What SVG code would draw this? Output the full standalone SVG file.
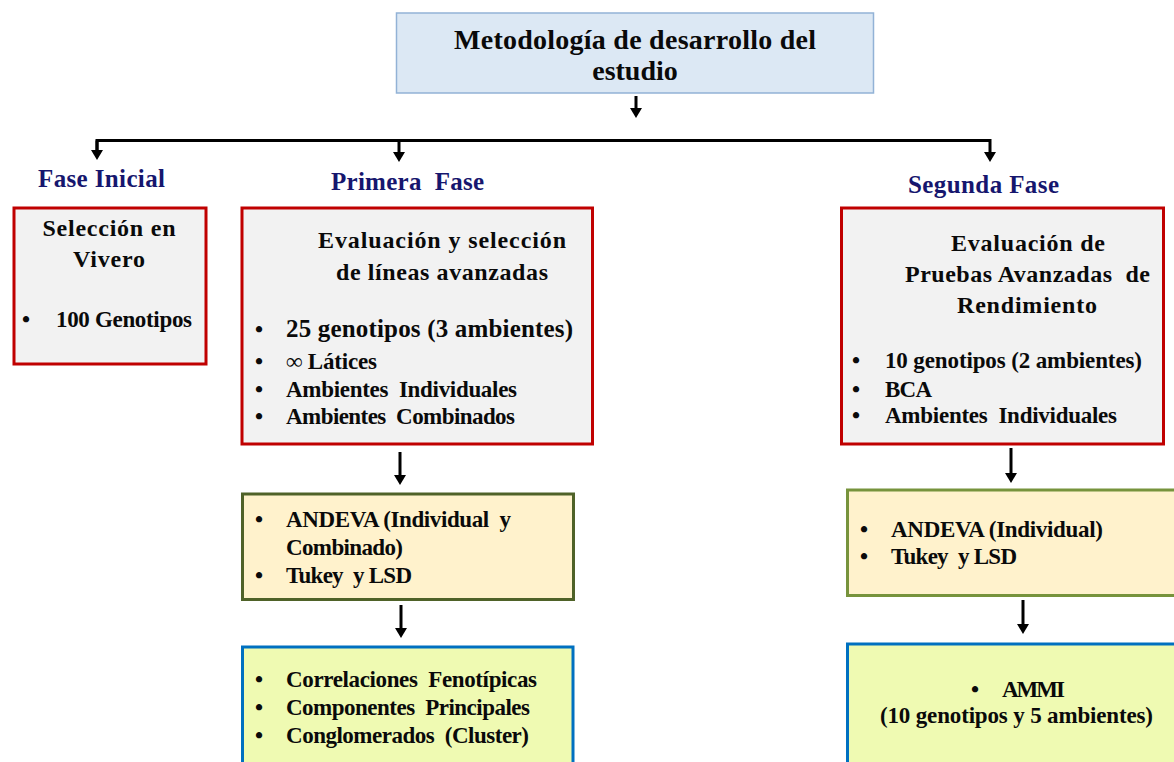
<svg xmlns="http://www.w3.org/2000/svg" width="1174" height="762" viewBox="0 0 1174 762">
<style>
text{font-family:"Liberation Serif","Times New Roman",serif;font-weight:bold;fill:#0a0a0a;white-space:pre}
.t{font-size:28px}
.ph{font-size:25px;fill:#16166e}
.h{font-size:24px}
.b{font-size:23px}
.mid{text-anchor:middle}
.red{fill:#f2f2f2;stroke:#c00000;stroke-width:3}
.grn{fill:#fff2cc;stroke:#4f6228;stroke-width:3}
.grn2{fill:#fff2cc;stroke:#77933c;stroke-width:3}
.blu{fill:#effab2;stroke:#0070c0;stroke-width:3}
.conn{fill:none;stroke:#000;stroke-width:3}
</style>
<defs>
<marker id="ah" markerUnits="userSpaceOnUse" markerWidth="12" markerHeight="12" refX="0" refY="6" orient="auto" viewBox="0 0 10 12">
<path d="M0,0 L10,6 L0,12 z" fill="#000"/>
</marker>
</defs>
<rect width="1174" height="762" fill="#fff"/>

<g id="connectors">
<line class="conn" x1="636" y1="96" x2="636" y2="108" marker-end="url(#ah)"/>
<polyline class="conn" points="97,150 97,140.5 990,140.5 990,152" marker-end="url(#ah)"/>
<line class="conn" x1="399" y1="140" x2="399" y2="152" marker-end="url(#ah)"/>
<polyline class="conn" points="97,140.5 97,150" marker-end="url(#ah)"/>
<line class="conn" x1="400" y1="452" x2="400" y2="475" marker-end="url(#ah)"/>
<line class="conn" x1="401" y1="605" x2="401" y2="628" marker-end="url(#ah)"/>
<line class="conn" x1="1011" y1="448" x2="1011" y2="473" marker-end="url(#ah)"/>
<line class="conn" x1="1023" y1="600" x2="1023" y2="624" marker-end="url(#ah)"/>
</g>

<g id="title">
<rect x="396.5" y="13" width="477" height="80" fill="#dce8f4" stroke="#92b2d6" stroke-width="1.5"/>
<text class="t mid" x="635" y="49" textLength="362">Metodología de desarrollo del</text>
<text class="t mid" x="635" y="80">estudio</text>
</g>

<g id="labels">
<text class="ph" x="38" y="187" textLength="127">Fase Inicial</text>
<text class="ph" x="331" y="190" textLength="153">Primera  Fase</text>
<text class="ph" x="908" y="193" textLength="151">Segunda Fase</text>
</g>

<g id="fase-inicial">
<rect class="red" x="14" y="208" width="192" height="156"/>
<text class="h mid" x="109" y="236" textLength="133">Selección en</text>
<text class="h mid" x="109" y="267" textLength="72">Vivero</text>
<text class="b" x="22" y="327">•</text>
<text class="b" x="56" y="327" textLength="136">100 Genotipos</text>
</g>

<g id="primera-fase">
<rect class="red" x="242" y="208" width="350.5" height="236"/>
<text class="h" x="318" y="248" textLength="248">Evaluación y selección</text>
<text class="h" x="336" y="280" textLength="212">de líneas avanzadas</text>
<text class="b" x="255" y="337">•</text>
<text class="b" x="255" y="369">•</text>
<text class="b" x="255" y="397">•</text>
<text class="b" x="255" y="424">•</text>
<text x="286" y="337" style="font-size:25px" textLength="287">25 genotipos (3 ambientes)</text>
<text class="b" x="286" y="369" textLength="91">∞ Látices</text>
<text class="b" x="286" y="397" textLength="231">Ambientes  Individuales</text>
<text class="b" x="286" y="424" textLength="229">Ambientes  Combinados</text>
</g>

<g id="segunda-fase">
<rect class="red" x="841.5" y="208" width="322" height="236"/>
<text class="h" x="951" y="251" textLength="154">Evaluación de</text>
<text class="h" x="905" y="282" textLength="245">Pruebas Avanzadas  de</text>
<text class="h" x="957" y="313" textLength="140">Rendimiento</text>
<text class="b" x="852" y="368">•</text>
<text class="b" x="852" y="397">•</text>
<text class="b" x="852" y="423">•</text>
<text class="b" x="885" y="368" textLength="257">10 genotipos (2 ambientes)</text>
<text class="b" x="885" y="397" textLength="47">BCA</text>
<text class="b" x="885" y="423" textLength="232">Ambientes  Individuales</text>
</g>

<g id="andeva-1">
<rect class="grn" x="242.5" y="494" width="331" height="105.5"/>
<text class="b" x="255" y="527">•</text>
<text class="b" x="255" y="583">•</text>
<text class="b" x="286" y="527" textLength="225">ANDEVA (Individual  y</text>
<text class="b" x="286" y="555" textLength="117">Combinado)</text>
<text class="b" x="286" y="583" textLength="126">Tukey  y LSD</text>
</g>

<g id="multivariado">
<rect class="blu" x="242.5" y="647" width="330.5" height="130"/>
<text class="b" x="255" y="687">•</text>
<text class="b" x="255" y="715">•</text>
<text class="b" x="255" y="743">•</text>
<text class="b" x="286" y="687" textLength="251">Correlaciones  Fenotípicas</text>
<text class="b" x="286" y="715" textLength="244">Componentes  Principales</text>
<text class="b" x="286" y="743" textLength="243">Conglomerados  (Cluster)</text>
</g>

<g id="andeva-2">
<rect class="grn2" x="847.5" y="490" width="340" height="105.5"/>
<text class="b" x="860" y="537">•</text>
<text class="b" x="860" y="564">•</text>
<text class="b" x="891" y="537" textLength="212">ANDEVA (Individual)</text>
<text class="b" x="891" y="564" textLength="126">Tukey  y LSD</text>
</g>

<g id="ammi">
<rect class="blu" x="847.5" y="644" width="340" height="130"/>
<text class="b" x="971" y="697">•</text>
<text class="b" x="1002" y="697" textLength="63">AMMI</text>
<text class="b" x="880" y="723" textLength="273">(10 genotipos y 5 ambientes)</text>
</g>
</svg>
